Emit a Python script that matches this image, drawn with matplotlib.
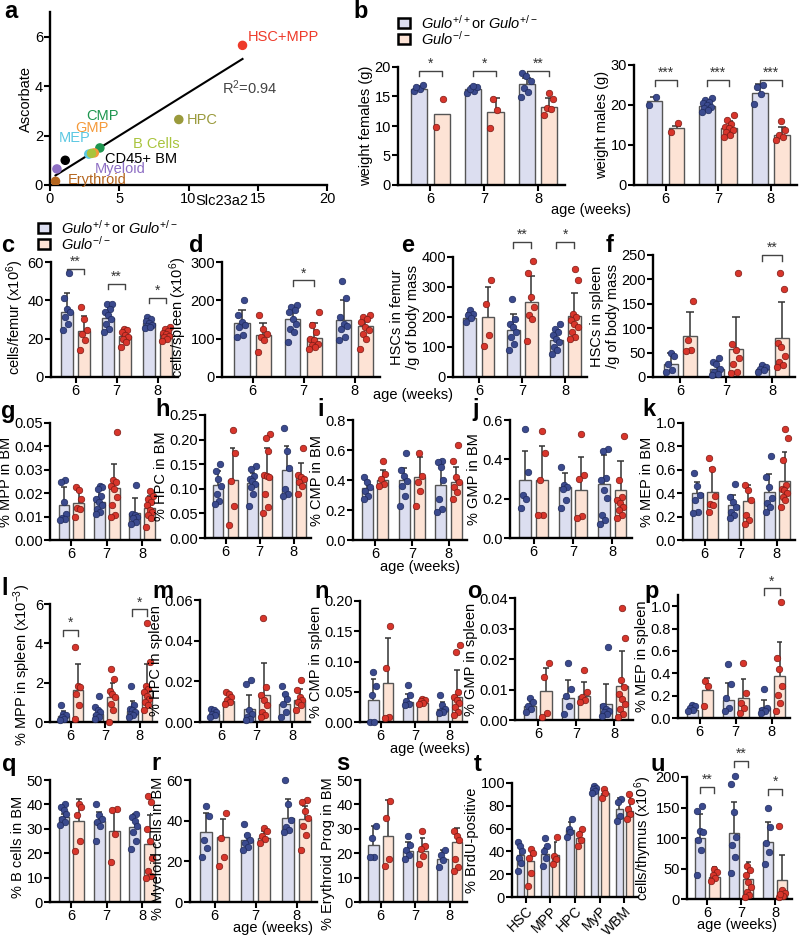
import numpy as np
import matplotlib
matplotlib.use("Agg")
import matplotlib.pyplot as plt
from matplotlib.patches import Rectangle

plt.rcParams['font.family'] = ['Liberation Sans', 'DejaVu Sans']
plt.rcParams['mathtext.fontset'] = 'custom'
plt.rcParams['mathtext.rm'] = 'Liberation Sans'
plt.rcParams['mathtext.it'] = 'Liberation Sans:italic'

# ---------------- data ----------------
ages = ['6', '7', '8']

# a: ascorbate vs Slc23a2
a_names = ['HSC+MPP', 'HPC', 'CMP', 'GMP', 'MEP', 'B Cells', 'CD45+ BM', 'Myeloid', 'Erythroid']
a_x = [13.9, 9.3, 3.6, 3.2, 2.8, 3.0, 1.1, 0.5, 0.4]
a_y = [5.65, 2.65, 1.5, 1.3, 1.25, 1.28, 1.0, 0.65, 0.15]
a_colors = ['#ee3a2a', '#9a9a3c', '#1f9650', '#f59a3a', '#5cc8e2', '#a9c43c', '#000000', '#8e6fc4', '#b4651e']
a_label_xy = [(14.3, 6.0), (9.9, 2.65), (2.65, 2.8), (1.8, 2.3), (0.6, 1.9), (6.0, 1.66),
              (4.0, 1.05), (3.2, 0.66), (1.3, 0.22)]

# b: body weight
bf_wt_mean = [16.2, 16.3, 17.1]
bf_wt_sd = [0.5, 0.4, 1.1]
bf_wt_pts = [[16.0, 16.3, 16.6, 16.9], [15.6, 16.0, 16.3, 16.6, 16.8], [18.9, 18.4, 17.7, 16.4, 15.8, 14.9]]
bf_ko_mean = [12.1, 12.3, 13.2]
bf_ko_sd = [0.0, 2.5, 1.6]
bf_ko_pts = [[14.5, 9.8], [14.5, 12.7, 9.7], [15.6, 14.5, 13.1, 12.8, 11.8]]

bm_wt_mean = [21.1, 19.8, 23.1]
bm_wt_sd = [0.9, 1.0, 2.1]
bm_wt_pts = [[22.1, 20.0], [21.7, 21.2, 20.8, 20.4, 20.0, 19.6, 19.2, 18.8, 18.3], [25.0, 24.6, 22.7, 20.2]]
bm_ko_mean = [14.2, 14.3, 12.6]
bm_ko_sd = [0.5, 1.7, 1.9]
bm_ko_pts = [[15.4, 13.2], [17.5, 16.2, 15.2, 14.6, 14.2, 13.7, 13.3, 12.6, 12.0], [16.0, 13.7, 12.5, 11.9, 11.2]]

# c: cells / femur
c_wt_mean = [33.9, 31.0, 28.0]
c_wt_sd = [9.9, 7.0, 2.5]
c_wt_pts = [[54.4, 41.0, 35.6, 33.9, 31.3, 27.8, 24.3], [38.0, 38.3, 35.6, 33.9, 32.2, 30.4, 27.8, 25.2, 23.5],
            [31.5, 30.0, 29.0, 28.0, 27.0, 26.5, 25.5, 26.0]]
c_ko_mean = [24.0, 21.4, 22.3]
c_ko_sd = [7.7, 4.0, 2.3]
c_ko_pts = [[36.5, 30.4, 24.3, 22.6, 19.1, 13.9], [25.2, 24.3, 23.5, 21.7, 21.0, 20.0, 18.3, 15.7],
            [26.0, 25.0, 24.0, 23.0, 22.5, 21.5, 21.0, 20.0, 19.0]]

# d: cells / spleen
d_wt_mean = [141, 152, 148]
d_wt_sd = [35, 31, 52]
d_wt_pts = [[200, 161, 143, 135, 130, 109, 104], [187, 183, 174, 170, 152, 139, 126, 117, 91],
            [250, 206, 157, 139, 133, 126, 104, 96]]
d_ko_mean = [109, 103, 132]
d_ko_sd = [32, 38, 25]
d_ko_pts = [[161, 126, 113, 104, 96, 65], [170, 135, 117, 100, 96, 87, 83, 78, 74],
            [161, 157, 152, 143, 130, 122, 113, 100, 74]]

# e: HSCs in femur / g body mass
e_wt_mean = [198, 156, 124]
e_wt_sd = [15, 55, 32]
e_wt_pts = [[222, 211, 206, 198, 183], [261, 194, 178, 167, 150, 133, 111, 89],
            [178, 160, 150, 139, 128, 117, 100, 89, 78]]
e_ko_mean = [200, 250, 202]
e_ko_sd = [100, 86, 78]
e_ko_pts = [[324, 242, 139, 102], [386, 347, 267, 233, 206, 194, 120],
            [361, 324, 210, 200, 190, 178, 167, 150, 133, 128]]

# f: HSCs in spleen / g body mass
f_wt_mean = [27, 17, 17]
f_wt_sd = [22, 16, 8]
f_wt_pts = [[49, 44, 27, 14, 10], [38, 30, 27, 17, 10, 7, 4], [24, 20, 17, 14, 10]]
f_ko_mean = [84, 58, 80]
f_ko_sd = [50, 65, 74]
f_ko_pts = [[156, 75, 55, 53], [214, 68, 55, 38, 27, 10, 8], [214, 180, 70, 62, 44, 31, 24, 20]]

# g: % MPP in BM
g_wt_mean = [0.0151, 0.0162, 0.0117]
g_wt_sd = [0.0074, 0.0056, 0.0062]
g_wt_pts = [[0.0256, 0.0246, 0.0162, 0.0113, 0.0092, 0.0090, 0.0085],
            [0.023, 0.0225, 0.0218, 0.019, 0.0176, 0.0162, 0.0148, 0.0134, 0.012, 0.0113],
            [0.0235, 0.0113, 0.0106, 0.0099, 0.0092, 0.0077, 0.007]]
g_ko_mean = [0.016, 0.0221, 0.0137]
g_ko_sd = [0.005, 0.0103, 0.0053]
g_ko_pts = [[0.0225, 0.0215, 0.0176, 0.0137, 0.0134, 0.0099],
            [0.046, 0.0256, 0.0246, 0.0232, 0.0218, 0.0183, 0.0148, 0.0106, 0.0099],
            [0.0211, 0.019, 0.0176, 0.0162, 0.0148, 0.0127, 0.012, 0.0106, 0.0092, 0.0056]]

# h: % HPC in BM
h_wt_mean = [0.107, 0.112, 0.139]
h_wt_sd = [0.030, 0.020, 0.048]
h_wt_pts = [[0.150, 0.136, 0.119, 0.106, 0.089, 0.076, 0.070],
            [0.146, 0.140, 0.126, 0.120, 0.116, 0.109, 0.103, 0.089, 0.066],
            [0.224, 0.176, 0.142, 0.100, 0.089, 0.086]]
h_ko_mean = [0.117, 0.127, 0.124]
h_ko_sd = [0.065, 0.056, 0.028]
h_ko_pts = [[0.22, 0.172, 0.116, 0.066, 0.026],
            [0.212, 0.203, 0.176, 0.129, 0.126, 0.123, 0.089, 0.063, 0.05],
            [0.183, 0.129, 0.123, 0.119, 0.113, 0.106, 0.089]]

# i: % CMP in BM
i_wt_mean = [0.344, 0.40, 0.37]
i_wt_sd = [0.051, 0.08, 0.14]
i_wt_pts = [[0.417, 0.388, 0.351, 0.329, 0.296, 0.274], [0.58, 0.47, 0.43, 0.395, 0.362, 0.296, 0.23],
            [0.526, 0.519, 0.49, 0.40, 0.274, 0.208, 0.186]]
i_ko_mean = [0.399, 0.42, 0.385]
i_ko_sd = [0.07, 0.13, 0.105]
i_ko_pts = [[0.526, 0.439, 0.406, 0.373, 0.362], [0.58, 0.43, 0.384, 0.329, 0.23],
            [0.63, 0.526, 0.417, 0.384, 0.351, 0.318, 0.274]]

# j: % GMP in BM
j_wt_mean = [0.293, 0.257, 0.274]
j_wt_sd = [0.147, 0.073, 0.148]
j_wt_pts = [[0.553, 0.338, 0.22, 0.20, 0.152], [0.363, 0.270, 0.258, 0.248, 0.194, 0.152],
            [0.45, 0.44, 0.304, 0.296, 0.245, 0.203, 0.118, 0.093, 0.071]]
j_ko_mean = [0.297, 0.245, 0.245]
j_ko_sd = [0.169, 0.169, 0.144]
j_ko_pts = [[0.544, 0.434, 0.296, 0.118, 0.115], [0.527, 0.321, 0.299, 0.11, 0.10],
            [0.519, 0.296, 0.211, 0.194, 0.177, 0.160, 0.144, 0.118, 0.101]]

# k: % MEP in BM
k_wt_mean = [0.398, 0.298, 0.406]
k_wt_sd = [0.10, 0.085, 0.155]
k_wt_pts = [[0.57, 0.46, 0.384, 0.34, 0.24, 0.227], [0.48, 0.369, 0.327, 0.284, 0.241, 0.21, 0.185],
            [0.72, 0.54, 0.455, 0.355, 0.312, 0.284, 0.24]]
k_ko_mean = [0.412, 0.332, 0.503]
k_ko_sd = [0.20, 0.14, 0.247]
k_ko_pts = [[0.705, 0.61, 0.38, 0.31, 0.298, 0.24], [0.47, 0.426, 0.341, 0.21, 0.17, 0.14],
            [0.95, 0.87, 0.68, 0.47, 0.44, 0.426, 0.398, 0.37, 0.341, 0.28]]

# l: % MPP in spleen (x10^-3)
l_wt_mean = [0.33, 0.42, 0.55]
l_wt_sd = [0.21, 0.25, 0.54]
l_wt_pts = [[0.87, 0.42, 0.34, 0.25, 0.17, 0.08], [1.34, 0.75, 0.59, 0.50, 0.34, 0.25, 0.17],
            [1.84, 0.84, 0.67, 0.59, 0.50, 0.42, 0.34, 0.25]]
l_ko_mean = [1.62, 1.26, 1.62]
l_ko_sd = [1.31, 0.74, 1.31]
l_ko_pts = [[3.82, 1.84, 1.76, 1.42, 0.87, 0.17], [2.71, 2.18, 1.59, 1.42, 1.26, 0.92, 0.59, 0.0],
            [5.03, 3.05, 1.84, 1.68, 1.51, 1.34, 1.17, 1.0, 0.84, 0.59]]

# m: % HPC in spleen
m_wt_mean = [0.0041, 0.0062, 0.0087]
m_wt_sd = [0.0017, 0.0070, 0.0053]
m_wt_pts = [[0.0066, 0.0058, 0.0049, 0.0041, 0.0033, 0.0025],
            [0.0206, 0.0186, 0.0058, 0.0041, 0.0025, 0.0016, 0.0008],
            [0.0176, 0.014, 0.0115, 0.009, 0.0049, 0.0025]]
m_ko_mean = [0.0104, 0.0132, 0.0107]
m_ko_sd = [0.0036, 0.0156, 0.0057]
m_ko_pts = [[0.0150, 0.0140, 0.0125, 0.0110, 0.0100, 0.0090],
            [0.051, 0.0173, 0.0132, 0.0107, 0.0082, 0.0049, 0.0033, 0.0025],
            [0.0209, 0.0156, 0.0123, 0.0107, 0.0099, 0.0082, 0.0058]]

# n: % CMP in spleen
n_wt_mean = [0.037, 0.033, 0.022]
n_wt_sd = [0.034, 0.014, 0.011]
n_wt_pts = [[0.083, 0.059, 0.044, 0.0, 0.0], [0.061, 0.045, 0.035, 0.030, 0.028],
            [0.044, 0.028, 0.022, 0.019, 0.017, 0.015]]
n_ko_mean = [0.065, 0.032, 0.042]
n_ko_sd = [0.074, 0.007, 0.044]
n_ko_pts = [[0.159, 0.09, 0.008, 0.006], [0.038, 0.036, 0.034, 0.032, 0.030],
            [0.128, 0.115, 0.050, 0.042, 0.036, 0.031, 0.025, 0.017, 0.011]]

# o: % GMP in spleen
o_wt_mean = [0.0047, 0.0072, 0.0053]
o_wt_sd = [0.0022, 0.006, 0.0066]
o_wt_pts = [[0.0072, 0.0060, 0.0045, 0.0035, 0.0025], [0.0187, 0.0102, 0.008, 0.0047, 0.002],
            [0.024, 0.0047, 0.0036, 0.003, 0.0025, 0.002, 0.0014]]
o_ko_mean = [0.0094, 0.008, 0.011]
o_ko_sd = [0.0078, 0.0045, 0.0117]
o_ko_pts = [[0.0188, 0.014, 0.0022, 0.0009], [0.0163, 0.0092, 0.0075, 0.0064, 0.0058],
            [0.0367, 0.0268, 0.013, 0.0108, 0.0086, 0.007, 0.0053, 0.0036, 0.002, 0.0009]]

# p: % MEP in spleen
p_wt_mean = [0.075, 0.16, 0.09]
p_wt_sd = [0.035, 0.155, 0.075]
p_wt_pts = [[0.12, 0.105, 0.09, 0.075, 0.06], [0.48, 0.30, 0.18, 0.09, 0.06],
            [0.255, 0.09, 0.075, 0.06, 0.045]]
p_ko_mean = [0.246, 0.18, 0.375]
p_ko_sd = [0.114, 0.165, 0.305]
p_ko_pts = [[0.33, 0.285, 0.105], [0.495, 0.225, 0.135, 0.09, 0.045],
            [1.04, 0.54, 0.435, 0.285, 0.21, 0.135, 0.06]]

# q: % B cells in BM
q_wt_mean = [34.8, 33.4, 30.7]
q_wt_sd = [1.4, 3.5, 5.5]
q_wt_pts = [[40.3, 39.0, 37.6, 36.2, 34.1, 32.7, 31.5], [40.3, 35.5, 34.1, 32.7, 31.3, 25.1],
            [36.2, 34.8, 33.4, 31.3, 28.6, 25.1, 21.7]]
q_ko_mean = [33.4, 29.3, 23.8]
q_ko_sd = [8.7, 9.0, 11.7]
q_ko_pts = [[40.3, 39.0, 35.5, 25.1, 21.0], [38.3, 37.6, 28.0, 16.2],
            [43.4, 41.0, 30.0, 25.1, 18.2, 12.7, 10.6, 10.0]]

# r: % Myeloid cells in BM
r_wt_mean = [34.3, 30.6, 41.5]
r_wt_sd = [9.7, 2.4, 9.3]
r_wt_pts = [[47.1, 42.4, 30.6, 26.4, 22.2], [38.2, 33.0, 30.6, 28.9, 27.2, 25.5],
            [60.0, 48.4, 40.3, 37.0, 35.3, 34.5]]
r_ko_mean = [31.9, 31.4, 41.0]
r_ko_sd = [8.8, 3.6, 6.4]
r_ko_pts = [[44.0, 31.4, 22.2, 17.5], [36.6, 35.0, 32.4, 30.8, 29.1],
            [50.4, 49.1, 44.9, 41.5, 37.3, 33.1, 25.5]]

# s: % Erythroid Prog in BM
s_wt_mean = [23.4, 21.0, 17.8]
s_wt_sd = [7.7, 3.4, 3.5]
s_wt_pts = [[31.1, 26.3, 18.5, 18.5], [26.9, 23.4, 21.3, 19.2, 17.8], [21.3, 19.2, 17.1, 14.3]]
s_ko_mean = [27.2, 21.0, 24.4]
s_ko_sd = [14.4, 5.2, 6.0]
s_ko_pts = [[41.2, 34.6, 17.8, 14.6], [29.0, 23.1, 21.7, 18.9, 15.7], [29.0, 27.2, 25.5, 17.8, 14.3, 12.9]]

# t: % BrdU-positive
t_cats = ['HSC', 'MPP', 'HPC', 'MyP', 'WBM']
t_wt_mean = [37.1, 38.0, 59.1, 95.7, 77.0]
t_wt_sd = [5.8, 4.9, 6.6, 2.0, 10.0]
t_wt_pts = [[48.6, 44.3, 40.0, 34.3, 30.0, 22.9], [51.4, 44.3, 40.0, 34.3, 27.0], [68.6, 60.0, 57.1, 52.9],
            [97.1, 95.7, 94.3, 92.9, 91.4], [85.7, 82.9, 71.4, 67.1]]
t_ko_mean = [31.4, 36.6, 52.0, 91.4, 75.7]
t_ko_sd = [10.0, 12.0, 5.1, 2.9, 12.9]
t_ko_pts = [[42.3, 38.6, 34.3, 21.4, 10.0], [52.9, 35.7, 32.9, 28.6], [60.0, 55.7, 50.0, 44.3],
            [94.3, 91.4, 87.1], [90.6, 84.3, 77.1, 72.9, 68.6]]

# u: cells / thymus
u_wt_mean = [100, 108, 93.5]
u_wt_sd = [39, 51, 33.5]
u_wt_pts = [[153, 145, 112, 110, 96, 80, 39], [201, 189, 142, 101, 88, 69, 42], [149, 118, 91, 77, 58]]
u_ko_mean = [35.7, 32.4, 31.4]
u_ko_sd = [16, 28.6, 40.6]
u_ko_pts = [[50, 45, 39, 34, 29], [54, 48, 39, 28, 20, 12, 7, 3], [120, 15, 10, 5, 3, 8]]

# ---------------- style ----------------
WT_BAR, KO_BAR = '#dcdef0', '#fde3d5'
WT_DOT, KO_DOT = '#3b4a8e', '#d8352b'
WT_EDGE, KO_EDGE = '#1e2a5c', '#7a1a14'
BAR_EDGE = '#555555'
FS = 10.5

W, H = 800, 938
fig = plt.figure(figsize=(W / 100, H / 100), dpi=100)
label_fix = []   # (axes, vertical position of the y label) resolved after a draw


def px_axes(x0, y0, x1, y1):
    return fig.add_axes([x0 / W, 1 - y1 / H, (x1 - x0) / W, (y1 - y0) / H])


def style(ax):
    for s in ['top', 'right']:
        ax.spines[s].set_visible(False)
    for s in ['left', 'bottom']:
        ax.spines[s].set_linewidth(1.7)
    ax.tick_params(direction='out', length=4, width=1.5, labelsize=FS, pad=1)


def spread(vals, center, width):
    order = np.argsort(vals)
    offs = np.zeros(len(vals))
    for rank, idx in enumerate(order):
        offs[idx] = ((rank * 0.618) % 1 - 0.5) * width
    return center + offs


def bar_panel(rect, wt_m, wt_sd, wt_pts, ko_m, ko_sd, ko_pts, ymax, yticks, ylabel,
              ylab_y=0.5, xlabels=ages, fmt=None, xpad=(0.6, 0.5)):
    ax = px_axes(*rect)
    xs = np.arange(len(wt_m))
    off = 0.21
    for sign, means, sds, pts, fc, dc, ec in [(-1, wt_m, wt_sd, wt_pts, WT_BAR, WT_DOT, WT_EDGE),
                                              (1, ko_m, ko_sd, ko_pts, KO_BAR, KO_DOT, KO_EDGE)]:
        bx = xs + sign * off
        ax.bar(bx, means, width=0.3, color=fc, edgecolor=BAR_EDGE, linewidth=1, zorder=1)
        for x, m, sd in zip(bx, means, sds):
            if sd > 0:
                ax.vlines(x, m, m + sd, color='#333333', lw=1.1, zorder=2)
                ax.hlines(m + sd, x - 0.08, x + 0.08, color='#333333', lw=1.1, zorder=2)
        for x, p in zip(bx, pts):
            ax.scatter(spread(p, x, 0.2), p, s=22, color=dc, edgecolor=ec, linewidth=0.5, zorder=3, clip_on=False)
    ax.set_xlim(-xpad[0], len(wt_m) - 1 + xpad[1])
    ax.set_ylim(0, ymax)
    ax.set_yticks(yticks)
    if fmt:
        ax.set_yticklabels([fmt.format(v) for v in yticks])
    ax.set_xticks(xs)
    ax.set_xticklabels(xlabels)
    ax.set_ylabel(ylabel, fontsize=FS)
    label_fix.append((ax, ylab_y))
    style(ax)
    return ax


def sig(ax, i, y, text, drop):
    x1, x2 = i - 0.21, i + 0.21
    ax.plot([x1, x1, x2, x2], [y - drop, y, y, y - drop], color='#444444', lw=1, clip_on=False)
    ax.text(i, y, text, ha='center', va='bottom', fontsize=10, color='#333333', clip_on=False)


def letter(x, y, s):
    fig.text(x / W, 1 - y / H, s, fontsize=17, fontweight='bold', va='baseline', ha='left')


def age_label(x, y):
    fig.text(x / W, 1 - y / H, 'age (weeks)', fontsize=FS, ha='center', va='center')


def legend(x, y):
    for k, (fc, lab) in enumerate([(WT_BAR, r'$\mathit{Gulo}^{+/+}$or $\mathit{Gulo}^{+/-}$'),
                                   (KO_BAR, r'$\mathit{Gulo}^{-/-}$')]):
        yy = y + k * 16
        fig.patches.append(Rectangle((x / W, 1 - (yy + 5) / H), 12 / W, 10 / H, transform=fig.transFigure,
                                     facecolor=fc, edgecolor='black', linewidth=1.8))
        fig.text((x + 23) / W, 1 - yy / H, lab, fontsize=FS, va='center', ha='left')


# ---------------- panel a ----------------
ax = px_axes(50, 12, 327, 185)
ax.scatter(a_x, a_y, s=34, c=a_colors, zorder=3)
coef = np.polyfit(a_x, a_y, 1)
xl = np.array([min(a_x), max(a_x)])
ax.plot(xl, np.polyval(coef, xl), color='black', lw=1.5)
for name, (lx, ly), col in zip(a_names, a_label_xy, a_colors):
    ax.text(lx, ly, name, color=col, fontsize=FS, va='center', ha='left')
ax.text(12.4, 3.95, 'R$^2$=0.94', fontsize=FS, color='#444444', va='center')
ax.set_xlim(0, 20)
ax.set_ylim(0, 7)
ax.set_xticks([0, 5, 10, 15, 20])
ax.set_yticks([0, 2, 4, 6])
ax.set_ylabel('Ascorbate', fontsize=FS)
label_fix.append((ax, 0.5))
ax.set_xlabel('Slc23a2', fontsize=FS)
ax.xaxis.set_label_coords(0.62, -0.05)
style(ax)
letter(4, 18, 'a')

# ---------------- panel b ----------------
ax = bar_panel((398, 67, 565, 185), bf_wt_mean, bf_wt_sd, bf_wt_pts, bf_ko_mean, bf_ko_sd, bf_ko_pts,
               20, [0, 5, 10, 15, 20], 'weight females (g)')
for i, t in enumerate(['*', '*', '**']):
    sig(ax, i, 19.4, t, 1.0)
ax = bar_panel((634, 65, 797, 185), bm_wt_mean, bm_wt_sd, bm_wt_pts, bm_ko_mean, bm_ko_sd, bm_ko_pts,
               30, [0, 10, 20, 30], 'weight males (g)')
for i in range(3):
    sig(ax, i, 26.2, '***', 1.5)
legend(398, 23)
age_label(591, 210)
letter(353, 18, 'b')

# ---------------- row c-f ----------------
ax = bar_panel((51, 262, 178, 377), c_wt_mean, c_wt_sd, c_wt_pts, c_ko_mean, c_ko_sd, c_ko_pts,
               60, [0, 20, 40, 60], 'cells/femur (x10$^6$)', 0.52)
sig(ax, 0, 56.5, '**', 3)
sig(ax, 1, 48.7, '**', 3)
sig(ax, 2, 41.4, '*', 3)
legend(38, 228)
letter(1, 252, 'c')

ax = bar_panel((222, 262, 380, 377), d_wt_mean, d_wt_sd, d_wt_pts, d_ko_mean, d_ko_sd, d_ko_pts,
               300, [0, 100, 200, 300], 'cells/spleen (x10$^6$)', 0.52)
sig(ax, 1, 252, '*', 15)
letter(189, 252, 'd')

ax = bar_panel((453, 257, 587, 377), e_wt_mean, e_wt_sd, e_wt_pts, e_ko_mean, e_ko_sd, e_ko_pts,
               400, [0, 100, 200, 300, 400], 'HSCs in femur\n/g of body mass', 0.5)
sig(ax, 1, 450, '**', 20)
sig(ax, 2, 450, '*', 20)
letter(401, 252, 'e')

ax = bar_panel((653, 255, 795, 377), f_wt_mean, f_wt_sd, f_wt_pts, f_ko_mean, f_ko_sd, f_ko_pts,
               250, [0, 50, 100, 150, 200, 250], 'HSCs in spleen\n/g of body mass', 0.5)
sig(ax, 2, 250, '**', 12)
letter(606, 252, 'f')
age_label(413, 395)

# ---------------- row g-k ----------------
bar_panel((50, 423, 160, 540), g_wt_mean, g_wt_sd, g_wt_pts, g_ko_mean, g_ko_sd, g_ko_pts, 0.05,
          [0, 0.01, 0.02, 0.03, 0.04, 0.05], '% MPP in BM', fmt='{:.2f}')
letter(1, 418, 'g')
bar_panel((205, 415, 311, 538), h_wt_mean, h_wt_sd, h_wt_pts, h_ko_mean, h_ko_sd, h_ko_pts, 0.25,
          [0, 0.05, 0.10, 0.15, 0.20, 0.25], '% HPC in BM', fmt='{:.2f}')
letter(155, 416, 'h')
bar_panel((353, 420, 467, 540), i_wt_mean, i_wt_sd, i_wt_pts, i_ko_mean, i_ko_sd, i_ko_pts, 0.8,
          [0, 0.2, 0.4, 0.6, 0.8], '% CMP in BM', fmt='{:.1f}')
letter(317, 416, 'i')
bar_panel((510, 420, 632, 538), j_wt_mean, j_wt_sd, j_wt_pts, j_ko_mean, j_ko_sd, j_ko_pts, 0.6,
          [0, 0.2, 0.4, 0.6], '% GMP in BM', fmt='{:.1f}')
letter(472, 416, 'j')
bar_panel((683, 423, 795, 540), k_wt_mean, k_wt_sd, k_wt_pts, k_ko_mean, k_ko_sd, k_ko_pts, 1.0,
          [0, 0.2, 0.4, 0.6, 0.8, 1.0], '% MEP in BM', fmt='{:.1f}')
letter(642, 416, 'k')
age_label(420, 567)

# ---------------- row l-p ----------------
ax = bar_panel((50, 604, 157, 722), l_wt_mean, l_wt_sd, l_wt_pts, l_ko_mean, l_ko_sd, l_ko_pts, 6,
               [0, 2, 4, 6], '% MPP in spleen (x10$^{-3}$)', 0.48)
sig(ax, 0, 4.7, '*', 0.35)
sig(ax, 2, 5.73, '*', 0.35)
letter(1, 595, 'l')
bar_panel((200, 600, 310, 722), m_wt_mean, m_wt_sd, m_wt_pts, m_ko_mean, m_ko_sd, m_ko_pts, 0.06,
          [0, 0.02, 0.04, 0.06], '% HPC in spleen', fmt='{:.2f}')
letter(152, 598, 'm')
bar_panel((360, 601, 467, 722), n_wt_mean, n_wt_sd, n_wt_pts, n_ko_mean, n_ko_sd, n_ko_pts, 0.20,
          [0, 0.05, 0.10, 0.15, 0.20], '% CMP in spleen', fmt='{:.2f}')
letter(314, 598, 'n')
bar_panel((515, 598, 633, 720), o_wt_mean, o_wt_sd, o_wt_pts, o_ko_mean, o_ko_sd, o_ko_pts, 0.04,
          [0, 0.01, 0.02, 0.03, 0.04], '% GMP in spleen', fmt='{:.2f}')
letter(467, 598, 'o')
ax = bar_panel((678, 595, 790, 718), p_wt_mean, p_wt_sd, p_wt_pts, p_ko_mean, p_ko_sd, p_ko_pts, 1.1,
               [0, 0.2, 0.4, 0.6, 0.8, 1.0], '% MEP in spleen', fmt='{:.1f}')
sig(ax, 2, 1.16, '*', 0.06)
letter(644, 598, 'p')
age_label(430, 749)

# ---------------- row q-u ----------------
bar_panel((50, 780, 160, 902), q_wt_mean, q_wt_sd, q_wt_pts, q_ko_mean, q_ko_sd, q_ko_pts, 50,
          [0, 10, 20, 30, 40, 50], '% B cells in BM', 0.45)
letter(2, 771, 'q')
bar_panel((190, 780, 317, 902), r_wt_mean, r_wt_sd, r_wt_pts, r_ko_mean, r_ko_sd, r_ko_pts, 60,
          [0, 20, 40, 60], '% Myeloid cells in BM', 0.44)
letter(151, 770, 'r')
bar_panel((360, 780, 467, 902), s_wt_mean, s_wt_sd, s_wt_pts, s_ko_mean, s_ko_sd, s_ko_pts, 50,
          [0, 10, 20, 30, 40, 50], '% Erythroid Prog in BM', 0.40)
letter(336, 770, 's')
age_label(273, 928)
ax = bar_panel((512, 783, 638, 897), t_wt_mean, t_wt_sd, t_wt_pts, t_ko_mean, t_ko_sd, t_ko_pts, 100,
               [0, 20, 40, 60, 80, 100], '% BrdU-positive', xlabels=t_cats, xpad=(0.55, 0.55))
plt.setp(ax.get_xticklabels(), rotation=45, ha='right', rotation_mode='anchor', fontsize=10)
letter(474, 771, 't')
ax = bar_panel((687, 777, 792, 899), u_wt_mean, u_wt_sd, u_wt_pts, u_ko_mean, u_ko_sd, u_ko_pts, 200,
               [0, 50, 100, 150, 200], 'cells/thymus (x10$^6$)', 0.5)
sig(ax, 0, 184, '**', 10)
sig(ax, 1, 226, '**', 10)
sig(ax, 2, 180, '*', 10)
letter(650, 771, 'u')
age_label(737, 925)

# y labels: right edge just left of the tick labels, centred at the chosen height
fig.canvas.draw()
renderer = fig.canvas.get_renderer()
lefts = []
for ax, fy in label_fix:
    left = min(t.get_window_extent(renderer).x0 for t in ax.get_yticklabels())
    lefts.append(left)
    nlines = ax.yaxis.label.get_text().count('\n') + 1
    bb = ax.get_window_extent(renderer)
    ax.yaxis.set_label_coords((left - 1.5 - nlines * 7 - bb.x0) / bb.width, fy)
    ax.yaxis.label.set_verticalalignment('center')
fig.canvas.draw()
for (ax, fy), left in zip(label_fix, lefts):
    lab = ax.yaxis.label.get_window_extent(renderer)
    bb = ax.get_window_extent(renderer)
    cx = (lab.x0 + lab.x1) / 2 + (left - 1.5 - lab.x1)
    ax.yaxis.set_label_coords((cx - bb.x0) / bb.width, fy)

fig.savefig('out.png', dpi=100)
